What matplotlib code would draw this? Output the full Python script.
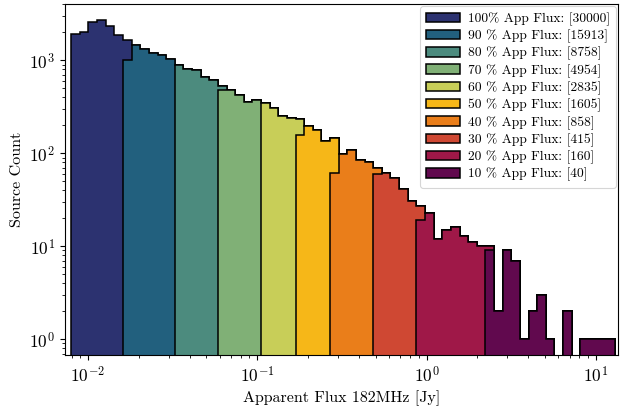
import numpy as np
import matplotlib
matplotlib.use('Agg')
import matplotlib.pyplot as plt

# histogram of all sources (63 log bins)
flux_min = 0.00797
flux_max = 12.95
n_bins = 63
counts_all = np.array([
    1930, 2000, 2600, 2720, 2310, 1890, 1654, 1450, 1310, 1210,
    1148, 1020, 895, 800, 790, 660, 613, 529, 482, 427,
    356, 371, 350, 310, 250, 242, 234, 196, 178, 134,
    145, 97, 108, 85, 81, 70, 61, 54, 41, 31,
    27, 23, 12, 15, 16, 13, 11, 10, 10, 2,
    9, 7, 1, 2, 3, 1, 0, 2, 0, 1,
    1, 1, 1])

# subsets of brightest sources
percents = ['100%', '90 %', '80 %', '70 %', '60 %', '50 %', '40 %', '30 %', '20 %', '10 %']
n_sources = [30000, 15913, 8758, 4954, 2835, 1605, 858, 415, 160, 40]
start_bin = [0, 6, 12, 17, 22, 26, 30, 35, 40, 48]
first_bin_count = [1930, 1017, 895, 483, 350, 156, 62, 60, 19, 9]
colors = ['#2c3270', '#22607e', '#4c8b7e', '#80b076', '#c8ce58',
          '#f6b718', '#ea7e1a', '#cf4833', '#9f1848', '#61094e']

plt.rcParams['font.family'] = 'serif'
plt.rcParams['font.serif'] = ['cmr10']
plt.rcParams['mathtext.fontset'] = 'cm'
plt.rcParams['axes.formatter.use_mathtext'] = True

edges = np.logspace(np.log10(flux_min), np.log10(flux_max), n_bins + 1)

fig = plt.figure(figsize=(6.21, 4.12), dpi=100)
ax = fig.add_axes([0.104, 0.138, 0.891, 0.852])

for pc, n, s, c0, col in zip(percents, n_sources, start_bin, first_bin_count, colors):
    vals = counts_all[s:].astype(float)
    vals[0] = c0
    ax.stairs(vals, edges[s:], fill=True, baseline=1e-2, facecolor=col,
              edgecolor='black', linewidth=1.1, label=f'{pc} App Flux: [{n}]')

ax.set_xscale('log')
ax.set_yscale('log')
ax.set_xlim(0.00728, 13.5)
ax.set_ylim(0.674, 4020)
ax.set_xlabel('Apparent Flux 182MHz [Jy]', fontsize=11.5)
ax.set_ylabel('Source Count', fontsize=11.5)
ax.tick_params(labelsize=12.5)

leg = ax.legend(loc='upper right', fontsize=9.7, handlelength=2.5, borderaxespad=0.15,
                labelspacing=0.28, handletextpad=0.6, borderpad=0.45)
leg.get_frame().set_linewidth(0.8)

fig.savefig('out.png', dpi=100)
